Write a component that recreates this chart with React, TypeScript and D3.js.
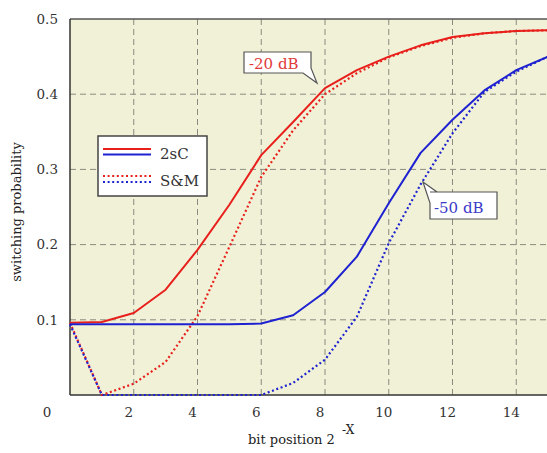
import React from 'react';
import * as d3 from 'd3';

// --- data ---
const bits = d3.range(0, 16);
const sc20 = [0.096, 0.097, 0.109, 0.14, 0.193, 0.253, 0.319, 0.363, 0.408, 0.432, 0.45, 0.465, 0.476, 0.481, 0.484, 0.485];
const sm20 = [0.096, 0.0, 0.015, 0.044, 0.105, 0.197, 0.29, 0.352, 0.4, 0.428, 0.449, 0.464, 0.475, 0.481, 0.484, 0.485];
const sc50 = [0.094, 0.094, 0.094, 0.094, 0.094, 0.094, 0.095, 0.106, 0.137, 0.184, 0.255, 0.322, 0.366, 0.405, 0.432, 0.45];
const sm50 = [0.094, 0.0, 0.0, 0.0, 0.0, 0.0, 0.0, 0.016, 0.047, 0.104, 0.202, 0.28, 0.348, 0.403, 0.43, 0.45];
const xTicks = [2, 4, 6, 8, 10, 12, 14];
const yTicks = [0.1, 0.2, 0.3, 0.4, 0.5];
const xGrid = [2, 4, 6, 8, 10, 12, 14, 16];

const RED = '#e8201c';
const BLUE = '#1e22d0';
const FONT = '"DejaVu Serif", serif';

const W = 547, H = 453;
const x = d3.scaleLinear().domain([0, 16]).range([70, 580]);
const y = d3.scaleLinear().domain([0, 0.5]).range([395, 19]);

const line = d3.line<number>().x((d, i) => x(bits[i])).y(d => y(d));

export default function App() {
    const series = [
        { vals: sc20, color: RED, dash: null },
        { vals: sm20, color: RED, dash: '2 2.6' },
        { vals: sc50, color: BLUE, dash: null },
        { vals: sm50, color: BLUE, dash: '2 2.6' },
    ];

    return (
        <svg width={W} height={H} style={{ position: 'absolute', left: 0, top: 0, background: '#fff' }} fontFamily={FONT}>
            {/* plot background */}
            <rect x={x(0)} y={y(0.5)} width={x(16) - x(0)} height={y(0) - y(0.5)} fill="#f1f1d7" />

            {/* grid */}
            {xGrid.map(t => (
                <line key={'gx' + t} x1={x(t)} x2={x(t)} y1={y(0)} y2={y(0.5)} stroke="#8a8a80" strokeWidth={1} strokeDasharray="6 4" />
            ))}
            {yTicks.filter(t => t < 0.5).map(t => (
                <line key={'gy' + t} x1={x(0)} x2={x(16)} y1={y(t)} y2={y(t)} stroke="#8a8a80" strokeWidth={1} strokeDasharray="6 4" />
            ))}

            {/* frame */}
            <line x1={x(0)} x2={x(16)} y1={y(0.5)} y2={y(0.5)} stroke="#555" strokeWidth={1.3} />
            <line x1={x(0)} x2={x(16)} y1={y(0)} y2={y(0)} stroke="#333" strokeWidth={1.5} />
            <line x1={x(0)} x2={x(0)} y1={y(0)} y2={y(0.5)} stroke="#333" strokeWidth={1.5} />

            {/* curves */}
            {series.map((s, i) => (
                <path key={i} d={line(s.vals) || ''} fill="none" stroke={s.color} strokeWidth={s.dash ? 2.2 : 2}
                    strokeDasharray={s.dash || undefined} strokeLinejoin="round" />
            ))}

            {/* tick labels */}
            {yTicks.map(t => (
                <text key={'ty' + t} x={58} y={y(t)} dy="0.35em" textAnchor="end" fontSize={13.5} fill="#333">{t.toFixed(1)}</text>
            ))}
            <text x={47} y={417} textAnchor="middle" fontSize={13.5} fill="#333">0</text>
            {xTicks.map(t => (
                <text key={'tx' + t} x={x(t) - 5} y={417} textAnchor="middle" fontSize={13.5} fill="#333">{t}</text>
            ))}

            {/* axis titles */}
            <text transform="translate(21,212) rotate(-90)" textAnchor="middle" fontSize={13} fill="#222">switching probability</text>
            <text x={248} y={444} fontSize={13} fill="#222">bit position 2</text>
            <text x={342} y={434} fontSize={12} fill="#222">-X</text>

            {/* legend */}
            <rect x={98} y={136} width={109} height={60} fill="#fff" stroke="#444" strokeWidth={1.5} />
            <line x1={103} x2={151} y1={149} y2={149} stroke={RED} strokeWidth={2} />
            <line x1={103} x2={151} y1={154.5} y2={154.5} stroke={BLUE} strokeWidth={2} />
            <line x1={103} x2={151} y1={176} y2={176} stroke={RED} strokeWidth={2.2} strokeDasharray="2 2.6" />
            <line x1={103} x2={151} y1={182} y2={182} stroke={BLUE} strokeWidth={2.2} strokeDasharray="2 2.6" />
            <text x={160} y={159} fontSize={15} fill="#333">2sC</text>
            <text x={160} y={186} fontSize={15} fill="#333">S&amp;M</text>

            {/* callouts */}
            <path d="M244,52 L311,52 L311,68 L317,83 L303,73 L244,73 Z" fill="#fff" stroke="#555" strokeWidth={1.2} />
            <text x={249} y={69} fontSize={15} fill="#e03a3a">-20 dB</text>
            <path d="M430,192 L437,192 L423,182 L430,203 L430,219 L497,219 L497,192 Z" fill="#fff" stroke="#555" strokeWidth={1.2} />
            <text x={434} y={213} fontSize={15} fill="#3a3ac8">-50 dB</text>
        </svg>
    );
}
